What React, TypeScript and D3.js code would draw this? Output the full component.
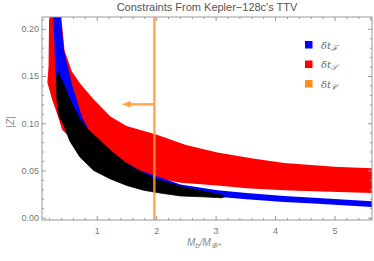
import * as d3 from "d3";
import React, { useEffect, useRef } from "react";

// band edges: [mass ratio, |Z|]
const redUpper: [number, number][] = [
  [0.2, 0.215], [0.4, 0.215], [0.46, 0.177], [0.58, 0.155], [0.72, 0.142],
  [0.95, 0.125], [1.23, 0.107], [1.5, 0.097], [2.0, 0.088], [2.5, 0.077],
  [3.03, 0.069], [3.6, 0.063], [4.15, 0.058], [5.0, 0.054], [5.7, 0.052],
];
const redLower: [number, number][] = [
  [0.19, 0.16], [0.17, 0.143], [0.25, 0.125], [0.35, 0.107], [0.42, 0.093],
  [0.55, 0.085], [0.8, 0.08], [1.0, 0.075], [1.3, 0.062], [1.5, 0.055],
  [1.7, 0.049], [2.0, 0.042], [2.41, 0.037], [3.03, 0.034], [3.52, 0.031],
  [4.15, 0.029], [4.65, 0.028], [5.7, 0.026],
];
const blueUpper: [number, number][] = [
  [0.39, 0.215], [0.45, 0.177], [0.58, 0.142], [0.75, 0.107], [0.89, 0.09],
  [1.1, 0.078], [1.45, 0.06], [1.73, 0.05], [2.0, 0.044], [2.41, 0.035],
  [3.03, 0.029], [3.52, 0.026], [4.15, 0.023], [4.65, 0.021], [5.7, 0.017],
];
const blueLower: [number, number][] = [
  [0.27, 0.215], [0.29, 0.18], [0.3, 0.155], [0.4, 0.12], [0.6, 0.09],
  [1.0, 0.058], [1.5, 0.04], [2.0, 0.03], [2.41, 0.025], [3.03, 0.022],
  [3.52, 0.0195], [4.15, 0.0165], [4.65, 0.015], [5.7, 0.011],
];
const blackUpper: [number, number][] = [
  [0.34, 0.155], [0.44, 0.142], [0.55, 0.125], [0.69, 0.107], [0.83, 0.095],
  [0.95, 0.088], [1.23, 0.071], [1.51, 0.057], [1.7, 0.05], [2.0, 0.041],
  [2.41, 0.033], [2.8, 0.028], [3.1, 0.024], [3.15, 0.022],
];
const blackLower: [number, number][] = [
  [0.34, 0.155], [0.32, 0.142], [0.33, 0.125], [0.37, 0.107], [0.44, 0.099],
  [0.55, 0.081], [0.72, 0.064], [0.95, 0.05], [1.23, 0.041], [1.51, 0.034],
  [1.79, 0.029], [2.07, 0.026], [2.41, 0.023], [2.8, 0.022], [3.1, 0.021],
];

const constraintX = 1.97;
const arrowTipX = 1.42;
const arrowY = 0.12;

const xTicks = [1, 2, 3, 4, 5];
const yTicks = [0, 0.05, 0.1, 0.15, 0.2];
const legendSubs = ["ℱ", "𝒮", "𝒞"];
const legendColors = ["#0000ff", "#ff0000", "#ff8c1a"];

const W = 374;
const H = 261;
const left = 42, right = 372, top = 17, bottom = 220;

export default function App() {
  const axRef = useRef<SVGGElement>(null);

  const x = d3.scaleLinear().domain([0.08, 5.63]).range([left, right]);
  const y = d3.scaleLinear().domain([-0.0025, 0.2125]).range([bottom, top]);

  const line = d3.line<[number, number]>().x((d) => x(d[0])).y((d) => y(d[1]));
  const band = (up: [number, number][], lo: [number, number][]) =>
    line(up.concat(lo.slice().reverse())) + "Z";

  useEffect(() => {
    const g = d3.select(axRef.current);
    g.selectAll("*").remove();
    const minorX = d3.range(0.2, 5.61, 0.2).filter((v) => Math.abs(v - Math.round(v)) > 0.01);
    const minorY = d3.range(0, 0.211, 0.01).filter((v) => Math.abs(v * 20 - Math.round(v * 20)) > 0.01);
    const fmt = d3.format(".2f");

    const put = (axis: any, tr: string) => {
      const a = g.append("g").attr("transform", tr).call(axis);
      a.select(".domain").remove();
      a.selectAll("line").attr("stroke", "#999");
      a.selectAll("text")
        .attr("fill", "#777")
        .style("font-family", "Liberation Sans, Arial, sans-serif")
        .style("font-size", "9px");
      return a;
    };

    put(d3.axisBottom(x).tickValues(xTicks).tickSize(-4).tickPadding(8).tickFormat(d3.format("d")), `translate(0,${bottom})`);
    put(d3.axisBottom(x).tickValues(minorX).tickSize(-2).tickFormat(() => ""), `translate(0,${bottom})`);
    put(d3.axisTop(x).tickValues(xTicks).tickSize(-4).tickFormat(() => ""), `translate(0,${top})`);
    put(d3.axisTop(x).tickValues(minorX).tickSize(-2).tickFormat(() => ""), `translate(0,${top})`);
    put(d3.axisLeft(y).tickValues(yTicks).tickSize(-4).tickPadding(3).tickFormat((d: any) => fmt(d)), `translate(${left},0)`);
    put(d3.axisLeft(y).tickValues(minorY).tickSize(-2).tickFormat(() => ""), `translate(${left},0)`);
    put(d3.axisRight(y).tickValues(yTicks).tickSize(-4).tickFormat(() => ""), `translate(${right},0)`);
    put(d3.axisRight(y).tickValues(minorY).tickSize(-2).tickFormat(() => ""), `translate(${right},0)`);
  }, []);

  const ax = x(constraintX);
  const tip = x(arrowTipX);
  const ay = y(arrowY);

  return (
    <svg width={W} height={H} style={{ position: "absolute", left: 0, top: 0, background: "#fff" }}>
      <defs>
        <clipPath id="plot">
          <rect x={left} y={top} width={right - left} height={bottom - top} />
        </clipPath>
      </defs>
      <text x={(left + right) / 2} y={11} textAnchor="middle" fill="#555"
        style={{ fontFamily: "Liberation Sans, Arial, sans-serif", fontSize: "11px" }}>
        Constraints From Kepler−128c's TTV
      </text>
      <g clipPath="url(#plot)">
        <path d={band(redUpper, redLower)} fill="#ff0000" />
        <path d={band(blueUpper, blueLower)} fill="#0000ff" />
        <path d={band(blackUpper, blackLower)} fill="#000" stroke="#000" strokeWidth={0.8} />
        <line x1={ax} x2={ax} y1={top} y2={bottom} stroke="#ff9a33" strokeOpacity={0.85} strokeWidth={2.5} />
        <line x1={ax} x2={tip + 6} y1={ay} y2={ay} stroke="#ff9a33" strokeOpacity={0.85} strokeWidth={2.5} />
        <path d={`M${tip},${ay}L${tip + 9},${ay - 3.5}L${tip + 9},${ay + 3.5}Z`} fill="#ff9a33" fillOpacity={0.85} />
      </g>
      <rect x={left} y={top} width={right - left} height={bottom - top} fill="none" stroke="#999" strokeWidth={1} />
      <g ref={axRef} />
      {legendSubs.map((s, i) => (
        <g key={s} transform={`translate(305,${45 + i * 19.5})`}>
          <rect x={0} y={-4} width={7.5} height={7.5} fill={legendColors[i]} />
          <text x={16} y={3.5} fill="#666"
            style={{ fontFamily: "DejaVu Serif, serif", fontSize: "10px", fontStyle: "italic" }}>
            δt<tspan dy={2} fontSize="8px">{s}</tspan>
          </text>
        </g>
      ))}
      <text transform={`translate(14,122) rotate(-90)`} textAnchor="middle" fill="#888"
        style={{ fontFamily: "Liberation Sans, Arial, sans-serif", fontSize: "10px", fontStyle: "italic" }}>
        |Z|
      </text>
      <text x={204} y={246} textAnchor="middle" fill="#888"
        style={{ fontFamily: "Liberation Sans, Arial, sans-serif", fontSize: "10px", fontStyle: "italic" }}>
        M<tspan dy={2} fontSize="8px">b</tspan><tspan dy={-2}>/M</tspan><tspan dy={2} fontSize="8px">⊕*</tspan>
      </text>
    </svg>
  );
}
